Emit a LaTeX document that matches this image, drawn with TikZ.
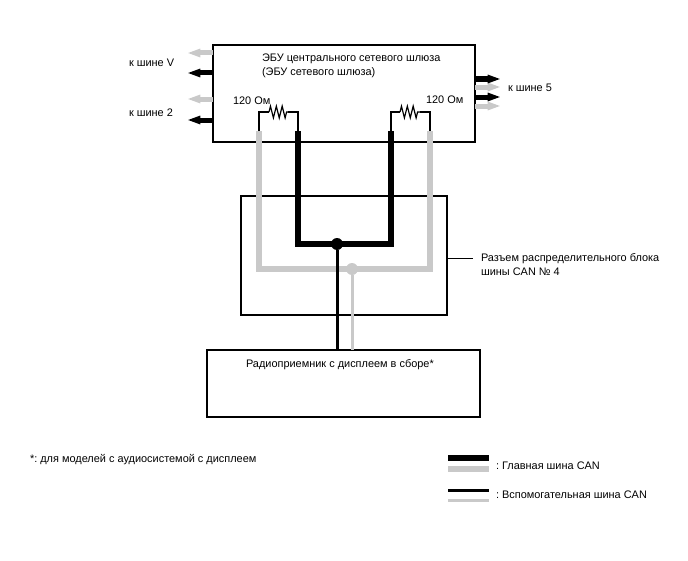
\documentclass[tikz,border=0pt]{standalone}
\usepackage{fontspec}
\setmainfont{Liberation Sans}
\usepackage{tikz}
\usetikzlibrary{arrows.meta,decorations.pathmorphing}

\definecolor{busgray}{HTML}{C9C9C9}

\begin{document}
\frenchspacing
\begin{tikzpicture}[
        x=0.75pt, y=-0.75pt,
        font=\fontsize{8.2pt}{10.5pt}\selectfont,
        unit/.style={draw, line width=1pt, inner sep=0pt, outer sep=0pt},
        txt/.style={inner sep=0pt, outer sep=0pt, align=left, anchor=west},
        mainbus/.style={line width=3.9pt},
        subbus/.style={line width=2.25pt},
        stub/.style={line width=3.75pt, -{Triangle[length=10pt,width=5.8pt]}},
        res/.style={line width=0.9pt, line join=miter},
        zig/.style={decorate, decoration={zigzag, amplitude=4.4pt, segment length=4.4pt}},
        joint/.style={circle, inner sep=0pt, minimum size=9pt}
    ]
        \useasboundingbox (0,0) rectangle (688,560);

        \node[unit, minimum width=196.5pt, minimum height=72.75pt] (ecu) at (344,93.5) {};
        \node[unit, minimum width=154.5pt, minimum height=89.25pt] (block) at (344,255.5) {};
        \node[unit, minimum width=204.75pt, minimum height=50.25pt] (radio) at (343.5,383.5) {};

        % wire corners
        \coordinate (gl) at (259,131);
        \coordinate (bl) at (298,131);
        \coordinate (br) at (391,131);
        \coordinate (gr) at (430,131);
        \coordinate (bl2) at (298,244);
        \coordinate (br2) at (391,244);
        \coordinate (gl2) at (259,269);
        \coordinate (gr2) at (430,269);

        \node[joint, fill=black] (bjoint) at (337,244) {};
        \node[joint, fill=busgray] (gjoint) at (352,269) {};
        \coordinate (btap) at (radio.north -| bjoint);
        \coordinate (gtap) at (radio.north -| gjoint);

        % terminating resistors
        \coordinate (r1a) at (259,112);
        \coordinate (r1b) at (298,112);
        \coordinate (r2a) at (391,112);
        \coordinate (r2b) at (430,112);
        \draw[res] (gl) -- (r1a) -- (269,112);
        \draw[res] (288,112) -- (r1b) -- (bl);
        \draw[res] (br) -- (r2a) -- (400,112);
        \draw[res] (420,112) -- (r2b) -- (gr);
        \draw[res, zig] (269,112) -- (288,112);
        \draw[res, zig] (400,112) -- (420,112);

        % bus lines
        \draw[subbus, busgray] (gjoint) -- (gtap);
        \draw[mainbus, busgray] (gl) -- (gl2) -- (gr2) -- (gr);
        \draw[subbus, black] (bjoint) -- (btap);
        \draw[mainbus, black] (bl) -- (bl2) -- (br2) -- (br);

        % stubs leaving the gateway
        \foreach \name/\ypos/\col in {a/53/busgray, b/73/black, c/99/busgray, d/120/black} {
            \coordinate (\name) at (187,\ypos);
            \draw[stub, \col] (ecu.west |- \name) -- (\name);
        }
        \foreach \name/\ypos/\col in {e/106/busgray, f/87/busgray, g/79/black, h/97/black} {
            \coordinate (\name) at (501,\ypos);
            \draw[stub, \col] (ecu.east |- \name) -- (\name);
        }

        \node[txt] (busv) at (129,63) {к шине V};
        \node[txt] (bus2) at (129,113) {к шине 2};
        \node[txt] (bus5) at (508,88) {к шине 5};
        \node[txt] (ohm1) at (233,101) {120 Ом};
        \node[txt] (ohm2) at (426,100) {120 Ом};
        \node[txt] (ecutext) at (262,65.5) {ЭБУ центрального сетевого шлюза\\(ЭБУ сетевого шлюза)};
        \node[txt] (radiotext) at (246,364.5) {Радиоприемник с дисплеем в сборе*};
        \node[txt] (blocktext) at (481,265) {Разъем распределительного блока\\шины CAN № 4};
        \node[txt] (note) at (30,459.5) {*: для моделей с аудиосистемой с дисплеем};

        % leader to the junction block
        \coordinate (leader) at (473,258);
        \draw[line width=0.6pt] (block.east |- leader) -- (leader);

        % legend
        \node[txt] (legmain) at (496,466) {: Главная шина CAN};
        \node[txt] (legsub) at (496,495) {: Вспомогательная шина CAN};
        \coordinate (l1) at (448,458);
        \coordinate (l2) at (448,469);
        \coordinate (l3) at (448,490);
        \coordinate (l4) at (448,500);
        \draw[mainbus, black] (l1) -- ++(41,0);
        \draw[mainbus, busgray] (l2) -- ++(41,0);
        \draw[subbus, black] (l3) -- ++(41,0);
        \draw[subbus, busgray] (l4) -- ++(41,0);
    \end{tikzpicture}
\end{document}
